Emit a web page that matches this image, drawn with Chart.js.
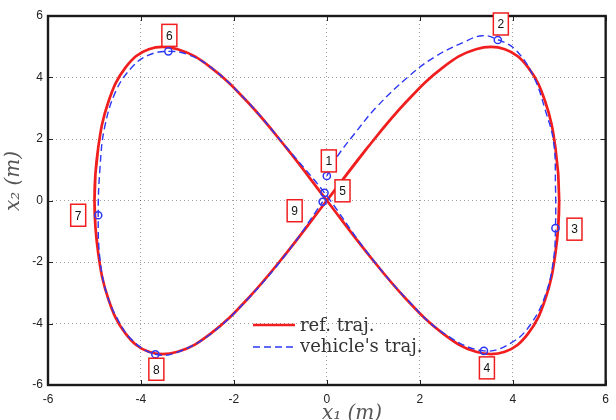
<!DOCTYPE html>
<html>
<head>
    <meta charset="utf-8">
    <title>Figure-eight tracking</title>
    <script src="https://cdn.jsdelivr.net/npm/chart.js"></script>
    <style>
        body {
            margin: 0;
            background: #fff;
        }
        #wrap {
            width: 616px;
            height: 420px;
        }
    </style>
</head>
<body>
    <div id="wrap"><canvas id="trajChart" width="616" height="420"></canvas></div>

    <script>
        // reference figure-eight (m)
        const refX = [0, 0.87, 1.71, 2.50, 3.21, 3.83, 4.33, 4.70, 4.92, 5.00, 4.92, 4.70, 4.33, 3.83, 3.21, 2.50, 1.71, 0.87,
                      0, -0.87, -1.71, -2.50, -3.21, -3.83, -4.33, -4.70, -4.92, -5.00, -4.92, -4.70, -4.33, -3.83, -3.21, -2.50, -1.71, -0.87, 0, 0.87];
        const refY = [0, 1.71, 3.21, 4.33, 4.92, 4.92, 4.33, 3.21, 1.71, 0, -1.71, -3.21, -4.33, -4.92, -4.92, -4.33, -3.21, -1.71,
                      0, 1.71, 3.21, 4.33, 4.92, 4.92, 4.33, 3.21, 1.71, 0, -1.71, -3.21, -4.33, -4.92, -4.92, -4.33, -3.21, -1.71, 0, 1.71];

        // vehicle's path, from snapshot 1 to snapshot 9
        const vehX = [0.00, 0.22, 0.60, 1.07, 1.75, 2.30, 2.95, 3.35, 3.68, 4.06, 4.45, 4.70, 4.88, 4.92, 4.92,
                      4.88, 4.72, 4.42, 4.00, 3.38, 2.50, 1.71, 0.87, -0.05,
                      -0.87, -1.71, -2.50, -3.00, -3.41, -3.85, -4.19, -4.53, -4.78, -4.88, -4.92,
                      -4.88, -4.74, -4.53, -4.19, -3.69, -3.21, -2.50, -1.71, -0.87, -0.09];
        const vehY = [0.80, 1.42, 2.18, 3.04, 4.02, 4.65, 5.15, 5.36, 5.23, 4.90, 4.03, 2.94, 1.90, 0.50, -0.90,
                      -1.90, -3.00, -3.95, -4.60, -4.89, -4.30, -3.19, -1.69, 0.25,
                      1.73, 3.22, 4.34, 4.75, 4.85, 4.72, 4.34, 3.59, 2.39, 1.09, -0.48,
                      -1.94, -3.02, -3.78, -4.54, -5.00, -4.93, -4.34, -3.22, -1.73, -0.04];

        // snapshot markers 1..9
        const markX = [0.00, 3.68, 4.92, 3.38, -0.05, -3.41, -4.92, -3.69, -0.09];
        const markY = [0.80, 5.22, -0.90, -4.89, 0.25, 4.85, -0.48, -5.00, -0.04];
        const markNames = ['1', '2', '3', '4', '5', '6', '7', '8', '9'];

        const tickValues = [-6, -4, -2, 0, 2, 4, 6];
        const legendNames = ['ref. traj.', "vehicle's traj."];

        function toPoints(xs, ys) {
            return xs.map((x, i) => ({x: x, y: ys[i]}));
        }

        const redColor = 'rgb(240, 30, 30)';
        const blueColor = 'rgb(45, 55, 245)';

        // pixel offset of each numbered box from its marker
        const boxOffsets = [[2, -15], [3, -16], [19, 1], [3, 17], [18, -2], [1, -16], [-20, 0], [1, 15], [-28, 9]];

        const framePlugin = {
            id: 'frame',
            afterDatasetsDraw(chart) {
                const {ctx, chartArea: a, scales: {x, y}} = chart;
                ctx.save();
                // inward tick marks
                ctx.strokeStyle = '#222';
                ctx.lineWidth = 1;
                ctx.beginPath();
                tickValues.forEach(v => {
                    const px = Math.round(x.getPixelForValue(v)) + 0.5;
                    const py = Math.round(y.getPixelForValue(v)) + 0.5;
                    ctx.moveTo(px, a.bottom); ctx.lineTo(px, a.bottom - 5);
                    ctx.moveTo(px, a.top); ctx.lineTo(px, a.top + 5);
                    ctx.moveTo(a.left, py); ctx.lineTo(a.left + 5, py);
                    ctx.moveTo(a.right, py); ctx.lineTo(a.right - 5, py);
                });
                ctx.stroke();
                ctx.lineWidth = 2.4;
                ctx.strokeStyle = '#1a1a1a';
                ctx.strokeRect(a.left, a.top, a.right - a.left, a.bottom - a.top);

                // numbered boxes next to the markers
                ctx.font = '12px "Liberation Sans", Arial, sans-serif';
                ctx.textAlign = 'center';
                ctx.textBaseline = 'middle';
                markNames.forEach((name, i) => {
                    const cx = x.getPixelForValue(markX[i]) + boxOffsets[i][0];
                    const cy = y.getPixelForValue(markY[i]) + boxOffsets[i][1];
                    ctx.fillStyle = '#fff';
                    ctx.fillRect(cx - 7.5, cy - 11, 15, 22);
                    ctx.strokeStyle = redColor;
                    ctx.lineWidth = 1.5;
                    ctx.strokeRect(cx - 7.5, cy - 11, 15, 22);
                    ctx.fillStyle = '#111';
                    ctx.fillText(name, cx, cy + 1);
                });
                ctx.restore();
            },
            afterDraw(chart) {
                const {ctx, chartArea: a} = chart;
                ctx.save();
                // legend inside the axes
                const lx = a.left + 205, ly = a.top + 309;
                ctx.lineWidth = 2.6;
                ctx.strokeStyle = redColor;
                ctx.beginPath();
                ctx.moveTo(lx, ly); ctx.lineTo(lx + 42, ly);
                ctx.stroke();
                ctx.lineWidth = 1.4;
                ctx.strokeStyle = blueColor;
                ctx.setLineDash([7, 4]);
                ctx.beginPath();
                ctx.moveTo(lx, ly + 22); ctx.lineTo(lx + 42, ly + 22);
                ctx.stroke();
                ctx.setLineDash([]);
                ctx.font = '18px "DejaVu Serif", serif';
                ctx.fillStyle = '#333';
                ctx.textAlign = 'left';
                ctx.textBaseline = 'middle';
                ctx.fillText(legendNames[0], lx + 47, ly + 1);
                ctx.fillText(legendNames[1], lx + 47, ly + 22);

                // axis titles
                ctx.font = 'italic 20px "DejaVu Serif", serif';
                ctx.fillStyle = '#555';
                ctx.textAlign = 'center';
                ctx.textBaseline = 'alphabetic';
                ctx.fillText('x\u2081 (m)', 352, 419);
                ctx.translate(19, 181);
                ctx.rotate(-Math.PI / 2);
                ctx.fillText('x\u2082 (m)', 0, 0);
                ctx.restore();
            }
        };

        const tickFont = {family: '"Liberation Sans", Arial, sans-serif', size: 12};

        const ctxTraj = document.getElementById('trajChart').getContext('2d');
        const trajChart = new Chart(ctxTraj, {
            type: 'scatter',
            data: {
                datasets: [{
                    label: legendNames[0],
                    data: toPoints(refX, refY),
                    showLine: true,
                    borderColor: redColor,
                    borderWidth: 2.7,
                    pointRadius: 0,
                    tension: 0.4,
                    order: 3
                }, {
                    label: legendNames[1],
                    data: toPoints(vehX, vehY),
                    showLine: true,
                    borderColor: blueColor,
                    borderWidth: 1.4,
                    borderDash: [7, 4],
                    pointRadius: 0,
                    tension: 0.4,
                    order: 2
                }, {
                    label: 'snapshots',
                    data: toPoints(markX, markY),
                    showLine: false,
                    pointStyle: 'circle',
                    pointRadius: 3.6,
                    pointBorderWidth: 1.5,
                    pointBorderColor: blueColor,
                    pointBackgroundColor: 'rgba(0,0,0,0)',
                    order: 1
                }]
            },
            options: {
                responsive: false,
                animation: false,
                events: [],
                layout: {
                    padding: {left: 0, top: 16, right: 9, bottom: 0}
                },
                plugins: {
                    legend: {display: false},
                    tooltip: {enabled: false}
                },
                scales: {
                    x: {
                        type: 'linear',
                        min: -6,
                        max: 6,
                        afterBuildTicks: s => { s.ticks = tickValues.map(v => ({value: v})); },
                        afterFit: s => { s.height = 35; },
                        grid: {
                            color: 'rgba(0,0,0,0.38)',
                            lineWidth: 1,
                            drawTicks: false
                        },
                        border: {display: false, dash: [1, 3]},
                        ticks: {
                            autoSkip: false,
                            maxRotation: 0,
                            padding: 7,
                            color: '#222',
                            font: tickFont
                        }
                    },
                    y: {
                        type: 'linear',
                        min: -6,
                        max: 6,
                        afterBuildTicks: s => { s.ticks = tickValues.map(v => ({value: v})); },
                        afterFit: s => { s.width = 48; },
                        grid: {
                            color: 'rgba(0,0,0,0.38)',
                            lineWidth: 1,
                            drawTicks: false
                        },
                        border: {display: false, dash: [1, 3]},
                        ticks: {
                            autoSkip: false,
                            padding: 5,
                            color: '#222',
                            font: tickFont
                        }
                    }
                }
            },
            plugins: [framePlugin]
        });
    </script>
</body>
</html>
